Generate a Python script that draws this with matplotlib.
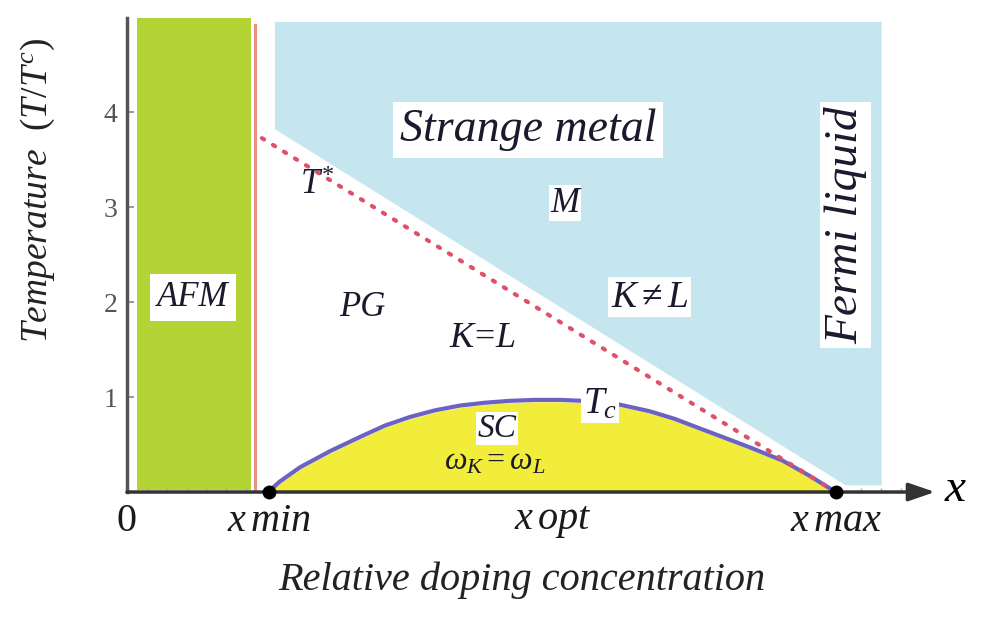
import matplotlib
matplotlib.use("Agg")
import matplotlib.pyplot as plt
from matplotlib.ticker import MultipleLocator

plt.rcParams['font.family'] = ['Liberation Serif', 'DejaVu Serif']
plt.rcParams['mathtext.fontset'] = 'custom'
plt.rcParams['mathtext.it'] = 'Liberation Serif:italic'
plt.rcParams['mathtext.rm'] = 'Liberation Serif'
plt.rcParams['mathtext.bf'] = 'Liberation Serif:bold'

# ---- data ----
x_min, x_opt, x_max = 0.05, 0.15, 0.25
x_tick_vals = [0.0, x_min, x_opt, x_max]
x_tick_labels = ['0', r'$x\,min$', r'$x\,opt$', r'$x\,max$']
y_ticks = [1, 2, 3, 4]

afm_x = [0.0035, 0.0437]
afm_T = [0.02, 4.99]

redline_x = 0.0451
redline_T = [0.02, 4.92]

blue_x = [0.0522, 0.2662, 0.2662, 0.2535, 0.0522]
blue_T = [4.95, 4.95, 0.07, 0.07, 3.82]

tstar_x = [0.0476, 0.2500]
tstar_T = [3.726, 0.0]

tc_x = [0.0497, 0.0539, 0.0610, 0.0716, 0.0822, 0.0910, 0.0998, 0.1086,
        0.1174, 0.1262, 0.1350, 0.1439, 0.1527, 0.1608, 0.1738, 0.1844,
        0.1932, 0.2020, 0.2109, 0.2197, 0.2313, 0.2408, 0.2500]
tc_T = [0.0, 0.11, 0.26, 0.43, 0.58, 0.70, 0.79, 0.86,
        0.91, 0.94, 0.96, 0.97, 0.97, 0.96, 0.92, 0.85,
        0.77, 0.67, 0.57, 0.47, 0.33, 0.17, 0.0]

xlim = (0.0, 0.285)
ylim = (0.0, 4.99)

# ---- figure ----
fig = plt.figure(figsize=(10, 6.24), dpi=100)
ax = fig.add_axes([0.127, 0.2115, 0.808, 0.7595])
ax.set_xlim(*xlim)
ax.set_ylim(*ylim)

green = '#b4d334'
blue = '#c6e6ef'
yellow = '#f1ed3a'

ax.fill_between(afm_x, afm_T[0], afm_T[1], color=green, lw=0, zorder=1)
ax.fill(blue_x, blue_T, color=blue, lw=0, zorder=1)
ax.plot([redline_x, redline_x], redline_T, color='#ee8f86', lw=2.2, zorder=2)
ax.fill_between(tc_x, 0, [max(t - 0.02, 0) for t in tc_T], color=yellow, lw=0, zorder=2)
ax.plot(tc_x, tc_T, color='#6c62c4', lw=3.0, zorder=3, solid_capstyle='round')
ax.plot(tstar_x, tstar_T, color='#e0506a', lw=3.0, ls=(0, (0.6, 2.5)),
        dash_capstyle='round', zorder=4)
ax.plot([x_min, x_max], [0, 0], 'o', color='black', ms=9, zorder=6, clip_on=False)

# axes styling
for s in ['top', 'right', 'bottom']:
    ax.spines[s].set_visible(False)
ax.spines['left'].set_color('#555555')
ax.spines['left'].set_linewidth(2.5)

ax.set_xticks(x_tick_vals, labels=x_tick_labels)
ax.set_yticks(y_ticks)
ax.tick_params(axis='x', which='major', length=0, pad=8, labelsize=29,
               labelcolor='#1a1a1a')
ax.tick_params(axis='y', which='major', direction='in', length=5, width=1.2,
               color='#888888', labelsize=20, labelcolor='#555555', pad=7)
ax.xaxis.set_minor_locator(MultipleLocator(0.007))
ax.tick_params(axis='x', which='minor', direction='in', length=3, width=1,
               color='#aaaaaa')

# x-axis arrow
ax.annotate('', xy=(1.0, 0.0), xytext=(0.0, 0.0), xycoords='axes fraction',
            textcoords='axes fraction',
            arrowprops=dict(arrowstyle='-|>,head_length=1.6,head_width=0.55',
                            color='#333333', lw=2.5, shrinkA=0, shrinkB=0),
            annotation_clip=False, zorder=5)
ax.text(1.025, 0.005, r'$x$', transform=ax.transAxes, fontsize=34,
        ha='center', va='center', clip_on=False)

ylab = ax.set_ylabel(r'Temperature  $(T/T^{c})$', fontsize=27, style='italic',
                     color='#222222')
ylab.set_va('center')
ax.yaxis.set_label_coords(-0.11, 0.637)
xlab = ax.set_xlabel('Relative doping concentration', fontsize=29,
                     style='italic', color='#222222')
xlab.set_va('center')
ax.xaxis.set_label_coords(0.488, -0.186)

kw = dict(ha='center', va='center', style='italic', color='#1a1a2e', zorder=7)
ax.text(0.0233, 2.05, 'AFM', fontsize=25, bbox=dict(fc='white', ec='none', pad=5), **kw)
ax.text(0.1414, 3.81, 'Strange metal', fontsize=33, bbox=dict(fc='white', ec='none', pad=5), **kw)
ax.text(0.1544, 3.04, 'M', fontsize=25, bbox=dict(fc='white', ec='none', pad=1), **kw)
ax.text(0.0673, 3.23, r'$T^{*}$', fontsize=25, **kw)
ax.text(0.0829, 1.94, 'PG', fontsize=25, **kw)
ax.text(0.1255, 1.62, r'$K\!=\!L$', fontsize=26, **kw)
ax.text(0.1844, 2.05, r'$K \neq L$', fontsize=27, bbox=dict(fc='white', ec='none', pad=2), **kw)
ax.text(0.2535, 2.81, 'Fermi liquid', fontsize=34, rotation=90,
        bbox=dict(fc='white', ec='none', pad=3), **kw)
ax.text(0.1668, 0.92, r'$T_{c}$', fontsize=27, bbox=dict(fc='white', ec='none', pad=1), **kw)
ax.text(0.1305, 0.67, 'SC', fontsize=24, bbox=dict(fc='white', ec='none', pad=1), **kw)
ax.text(0.1298, 0.32, r'$\omega_{K} = \omega_{L}$', fontsize=23, **kw)

fig.savefig('out.png', dpi=100)
